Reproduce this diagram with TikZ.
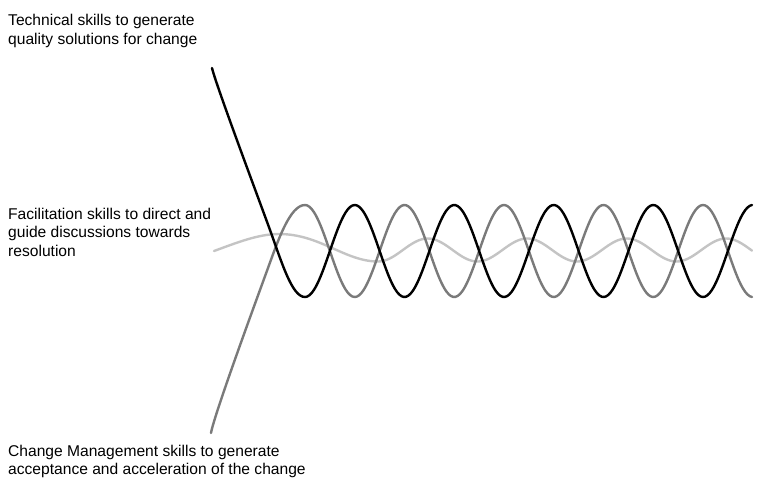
\documentclass[tikz,border=0pt]{standalone}
\usepackage{fontspec}
\setmainfont{Liberation Sans}
\definecolor{midgray}{HTML}{7A7A7A}
\definecolor{palegray}{HTML}{C4C4C4}
\begin{document}
\begin{tikzpicture}[x=1pt,y=-1pt,
  skillwave/.style={line width=2.4pt, line join=round, line cap=round},
  txt/.style={anchor=base west, inner sep=0pt, font=\fontsize{15.6}{18.6}\selectfont}]
\useasboundingbox (0,0) rectangle (757,480);
% light gray wave (facilitation)
\draw[skillwave, palegray] (214,251) coordinate (fs)
  .. controls (236,243) and (258,234) .. (279,234)
  .. controls (320,234) and (345,261.5) .. (378,261.5)
  -- plot[domain=378:752, samples=160, smooth] ({\x},{250+11.5*cos(3.618*(\x-378))});
% gray wave (change management)
\draw[skillwave, midgray] (211,433) coordinate (cs)
  .. controls (214,415) and (258,295.5) .. (268,268)
  .. controls (278,240.5) and (290,205) .. (305,205)
  -- plot[domain=305:752, samples=200, smooth] ({\x},{251-46*cos(3.618*(\x-305))});
% black wave (technical)
\draw[skillwave, black] (212,68) coordinate (ts)
  .. controls (216,85) and (258,197) .. (270,230)
  .. controls (282,263) and (292,297) .. (305,297)
  -- plot[domain=305:752, samples=200, smooth] ({\x},{251+46*cos(3.618*(\x-305))});
% labels
\node[txt] (tech) at (8,25.7) {\begin{tabular}[t]{@{}l@{}}Technical skills to generate\\quality solutions for change\end{tabular}};
\node[txt] (facil) at (8,219.3) {\begin{tabular}[t]{@{}l@{}}Facilitation skills to direct and\\guide discussions towards\\resolution\end{tabular}};
\node[txt] (chg) at (8,456) {\begin{tabular}[t]{@{}l@{}}Change Management skills to generate\\acceptance and acceleration of the change\end{tabular}};
\end{tikzpicture}
\end{document}
